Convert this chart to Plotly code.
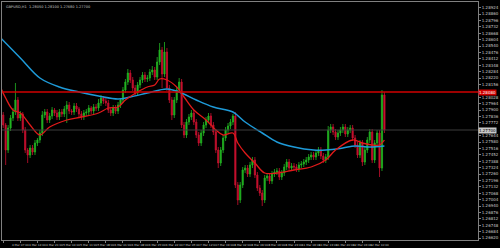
import plotly.graph_objects as go

# ---------------- data ----------------
closes = [
    1.2775, 1.2750, 1.2772, 1.2782, 1.2788, 1.2800, 1.2782, 1.2786, 1.2770, 1.2750,
    1.2745, 1.2752, 1.2748, 1.2757, 1.2760, 1.2767, 1.2785, 1.2788, 1.2780, 1.2784,
    1.2790, 1.2787, 1.2783, 1.2788, 1.2786, 1.2791, 1.2795, 1.2789, 1.2788, 1.2794,
    1.2791, 1.2786, 1.2783, 1.2787, 1.2788, 1.2792, 1.2789, 1.2793, 1.2792, 1.2797,
    1.2802, 1.2799, 1.2797, 1.2790, 1.2787, 1.2792, 1.2789, 1.2795, 1.2800, 1.2810,
    1.2818, 1.2827, 1.2820, 1.2812, 1.2807, 1.2815, 1.2820, 1.2825, 1.2821, 1.2822,
    1.2828, 1.2830, 1.2823, 1.2838, 1.2850, 1.2826, 1.2848, 1.2812, 1.2800, 1.2785,
    1.2800, 1.2810, 1.2818, 1.2775, 1.2765, 1.2778, 1.2783, 1.2787, 1.2778, 1.2765,
    1.2757, 1.2767, 1.2775, 1.2780, 1.2784, 1.2775, 1.2768, 1.2750, 1.2737, 1.2750,
    1.2762, 1.2770, 1.2774, 1.2778, 1.2784, 1.2715, 1.2700, 1.2715, 1.2730, 1.2732,
    1.2726, 1.2735, 1.2740, 1.2725, 1.2712, 1.2707, 1.2700, 1.2722, 1.2724, 1.2719,
    1.2726, 1.2728, 1.2729, 1.2723, 1.2727, 1.2733, 1.2738, 1.2732, 1.2734, 1.2733,
    1.2731, 1.2735, 1.2736, 1.2738, 1.2740, 1.2743, 1.2745, 1.2743, 1.2747, 1.2750,
    1.2744, 1.2740, 1.2743, 1.2770, 1.2773, 1.2768, 1.2763, 1.2767, 1.2770, 1.2773,
    1.2766, 1.2770, 1.2772, 1.2762, 1.2755, 1.2745, 1.2757, 1.2738, 1.2750, 1.2760,
    1.2768, 1.2740, 1.2757, 1.2767, 1.2732, 1.2805, 1.2770,
]
first_open = 1.2785

# wick lengths in pips
upper_wicks = [
    3, 2, 3, 3, 4, 17, 3, 3, 2, 3,
    2, 3, 3, 3, 2, 3, 4, 3, 3, 3,
    3, 2, 3, 3, 3, 3, 4, 3, 2, 3,
    3, 2, 3, 3, 3, 3, 2, 3, 3, 4,
    3, 2, 3, 3, 3, 3, 3, 3, 2, 3,
    3, 4, 3, 3, 3, 3, 3, 3, 3, 3,
    3, 4, 3, 5, 7, 3, 10, 4, 3, 3,
    3, 3, 4, 3, 3, 3, 3, 3, 3, 3,
    3, 3, 3, 3, 3, 3, 3, 3, 3, 3,
    3, 3, 3, 3, 2, 4, 3, 3, 3, 3,
    3, 3, 3, 3, 3, 3, 3, 3, 3, 3,
    3, 3, 3, 3, 3, 3, 3, 3, 3, 3,
    3, 3, 3, 3, 3, 3, 3, 3, 3, 3,
    3, 3, 3, 4, 3, 3, 3, 3, 3, 3,
    3, 3, 3, 3, 3, 3, 3, 3, 3, 3,
    3, 3, 3, 3, 3, 5, 3,
]
lower_wicks = [
    3, 15, 3, 3, 3, 3, 3, 3, 3, 3,
    8, 3, 3, 3, 3, 3, 3, 3, 3, 3,
    3, 3, 3, 3, 3, 3, 14, 3, 3, 3,
    3, 3, 3, 3, 3, 3, 3, 3, 3, 3,
    3, 3, 3, 3, 3, 3, 3, 3, 3, 3,
    3, 3, 3, 3, 3, 3, 3, 3, 3, 3,
    3, 3, 3, 3, 3, 14, 3, 3, 3, 5,
    3, 3, 3, 3, 3, 3, 3, 3, 3, 3,
    3, 3, 3, 3, 3, 3, 3, 3, 5, 3,
    3, 3, 3, 3, 3, 3, 5, 3, 3, 3,
    3, 3, 3, 3, 3, 3, 6, 3, 3, 3,
    3, 3, 3, 3, 3, 3, 3, 3, 3, 3,
    3, 3, 3, 3, 3, 3, 3, 3, 3, 3,
    3, 3, 3, 3, 3, 3, 3, 3, 3, 3,
    3, 3, 3, 3, 3, 3, 3, 4, 3, 3,
    3, 3, 3, 3, 9, 3, 3,
]

# moving averages (sampled)
ma_fast_x = [-1, 1, 4, 7, 11, 15, 19, 26, 32, 39, 43, 47, 50, 55, 59, 62, 64, 67, 71, 74,
             78, 83, 87, 90, 94, 96, 99, 103, 107, 112, 119, 126, 132, 136, 143, 147, 151, 154, 156]
ma_fast_y = [1.2812, 1.2802, 1.2790, 1.2787, 1.2775, 1.2765, 1.2773, 1.2780, 1.2783, 1.2787,
             1.2792, 1.2793, 1.2800, 1.2808, 1.2813, 1.2815, 1.2821, 1.2820, 1.2813, 1.2803,
             1.2790, 1.2780, 1.2770, 1.2765, 1.2767, 1.2757, 1.2747, 1.2737, 1.2727, 1.2727,
             1.2730, 1.2733, 1.2740, 1.2750, 1.2760, 1.2757, 1.2755, 1.2755, 1.2760]
ma_slow_x = [-1, 7, 15, 23, 31, 39, 47, 52, 59, 67, 72, 79, 86, 94, 99, 106, 112, 119, 127,
             132, 139, 144, 150, 156]
ma_slow_y = [1.2862, 1.2842, 1.2822, 1.2813, 1.2808, 1.2804, 1.2801, 1.2803, 1.2807, 1.2811,
             1.2808, 1.2800, 1.2793, 1.2788, 1.2778, 1.2767, 1.2758, 1.2753, 1.2750, 1.2750,
             1.2752, 1.2754, 1.2753, 1.2754]

level_price = 1.2808
bid_price = closes[-1]

price_tick_first = 1.2662
price_tick_step = 0.00064
price_tick_count = 38

time_tick_pos = [0, 7, 14, 21, 28, 35, 42, 49, 56, 63, 70, 77, 84, 91, 98, 105, 112, 119,
                 126, 133, 140, 147, 154]
time_tick_text = ["4 Mar 2024", "4 Mar 07:00", "4 Mar 14:00", "4 Mar 21:00", "5 Mar 04:00",
                  "5 Mar 11:00", "5 Mar 18:00", "6 Mar 01:00", "6 Mar 08:00", "6 Mar 15:00",
                  "6 Mar 22:00", "7 Mar 05:00", "7 Mar 12:00", "7 Mar 19:00", "8 Mar 02:00",
                  "8 Mar 09:00", "8 Mar 16:00", "8 Mar 23:00", "11 Mar 06:00", "11 Mar 13:00",
                  "11 Mar 20:00", "12 Mar 03:00", "12 Mar 10:00"]

title_text = "GBPUSD,H1  1.28050 1.28100 1.27680 1.27700"

# ---------------- build OHLC ----------------
PIP = 0.0001
opens = [first_open] + closes[:-1]
highs = [max(o, c) + u * PIP for o, c, u in zip(opens, closes, upper_wicks)]
lows = [min(o, c) - d * PIP for o, c, d in zip(opens, closes, lower_wicks)]
xs = list(range(len(closes)))

# price-axis ticks; the two price tags cover the labels beneath them (as in the terminal)
all_ticks = [price_tick_first + k * price_tick_step for k in range(price_tick_count)]
price_ticks = [t for t in all_ticks
               if abs(t - level_price) > 0.00045 and abs(t - bid_price) > 0.00045]

fig = go.Figure()
fig.add_trace(go.Candlestick(
    x=xs, open=opens, high=highs, low=lows, close=closes,
    increasing=dict(line=dict(color="#22b422", width=0.8), fillcolor="#22b422"),
    decreasing=dict(line=dict(color="#c8102e", width=0.8), fillcolor="#c8102e"),
    whiskerwidth=0, showlegend=False, hoverinfo="skip",
))
fig.add_trace(go.Scatter(x=ma_slow_x, y=ma_slow_y, mode="lines", line=dict(color="#1e9ad8", width=1.5, shape="spline"),
                         showlegend=False, hoverinfo="skip"))
fig.add_trace(go.Scatter(x=ma_fast_x, y=ma_fast_y, mode="lines", line=dict(color="#e01a1a", width=1.3, shape="spline"),
                         showlegend=False, hoverinfo="skip"))

fig.add_hline(y=level_price, line=dict(color="#d00000", width=1.5))
fig.add_hline(y=bid_price, line=dict(color="#3c3c3c", width=1))

fig.add_annotation(x=1, xref="paper", y=level_price, yref="y", text=f"{level_price:.5f}",
                   showarrow=False, xanchor="left", bgcolor="#d00000",
                   font=dict(size=4, color="white"), borderpad=0)
fig.add_annotation(x=1, xref="paper", y=bid_price, yref="y", text=f"{bid_price:.5f}",
                   showarrow=False, xanchor="left", bgcolor="#c8c8c8",
                   font=dict(size=4, color="black"), borderpad=0)
fig.add_annotation(x=0.004, xref="paper", y=0.995, yref="paper", text=title_text,
                   showarrow=False, xanchor="left", yanchor="top",
                   font=dict(size=3.5, color="#c8c8c8"))

fig.update_layout(
    width=500, height=248,
    margin=dict(l=1, r=12, t=2, b=8),
    paper_bgcolor="black", plot_bgcolor="black",
    font=dict(family="DejaVu Sans", color="#c8c8c8"),
    xaxis=dict(range=[-0.5, 194.3], rangeslider=dict(visible=False), showgrid=False,
               zeroline=False, showline=True, linecolor="#808080", linewidth=1, mirror=True,
               tickmode="array", tickvals=time_tick_pos, ticktext=time_tick_text,
               tickangle=0, tickfont=dict(size=2.8, color="#c8c8c8"),
               ticks="outside", ticklen=2, tickcolor="#808080"),
    yaxis=dict(range=[1.2660, 1.2898], side="right", showgrid=False, zeroline=False,
               showline=True, linecolor="#808080", linewidth=1, mirror=True,
               tickmode="array", tickvals=price_ticks, tickformat=".5f",
               tickfont=dict(size=4, color="#c8c8c8"),
               ticks="outside", ticklen=2, tickcolor="#808080"),
)

fig.write_html("out.html")
